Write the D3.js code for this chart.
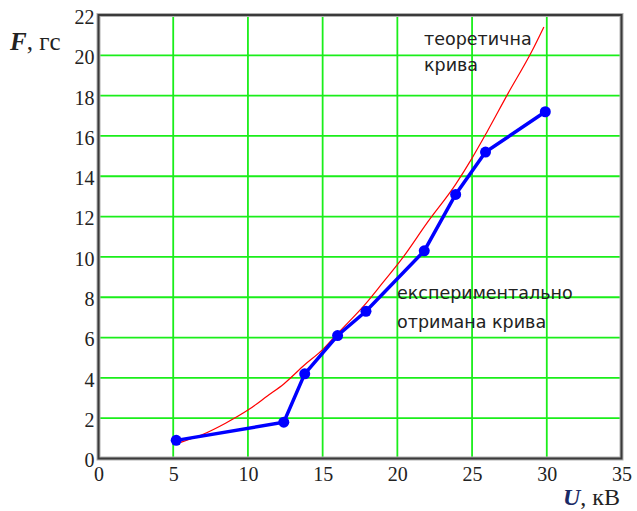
<!DOCTYPE html>
<html>
<head>
<meta charset="utf-8">
<script src="https://cdn.jsdelivr.net/npm/d3@7"></script>
<style>
body{margin:0;background:#fff}
svg text{fill:#222}
.tick text{font-family:"Liberation Serif","DejaVu Serif",serif;font-size:20px}
.note{font-family:"DejaVu Sans",sans-serif;font-size:17.5px}
</style>
</head>
<body>
<svg></svg>
<script>
let width=637
let height=511

// experimental points U (kV), F (gf)
let expU=[5.2,12.4,13.8,16,17.9,21.8,23.9,25.9,29.9]
let expF=[0.9,1.8,4.2,6.1,7.3,10.3,13.1,15.2,17.2]

// theoretical curve
let theoU=[5.5,7,8.5,10,11.3,12.4,13.8,15,16,17.9,19,20.3,22,23.9,25,26,27.4,29,29.8]
let theoF=[0.8,1.2,1.75,2.4,3.1,3.7,4.65,5.4,6.2,7.7,8.7,9.9,11.7,13.6,14.9,16.2,18.1,20.2,21.4]

let xTicks=[0,5,10,15,20,25,30,35]
let yTicks=[0,2,4,6,8,10,12,14,16,18,20,22]

let svg=d3.select('svg').attr('width',width).attr('height',height)

let xScale=d3.scaleLinear().domain([0,35]).range([98.5,621.5])
let yScale=d3.scaleLinear().domain([0,22]).range([458.5,15])

// grid
svg.append('g').selectAll('line')
  .data(xTicks.filter(d=>d>0&&d<35))
  .enter().append('line')
  .attr('x1',d=>xScale(d)).attr('x2',d=>xScale(d))
  .attr('y1',yScale(0)).attr('y2',yScale(22))
  .attr('stroke','#1aee1a').attr('stroke-width',1.8)
svg.append('g').selectAll('line')
  .data(yTicks.filter(d=>d>0&&d<22))
  .enter().append('line')
  .attr('y1',d=>yScale(d)).attr('y2',d=>yScale(d))
  .attr('x1',xScale(0)).attr('x2',xScale(35))
  .attr('stroke','#1aee1a').attr('stroke-width',1.8)

// frame
svg.append('rect')
  .attr('x',xScale(0)).attr('y',yScale(22))
  .attr('width',xScale(35)-xScale(0)).attr('height',yScale(0)-yScale(22))
  .attr('fill','none').attr('stroke','#b0b0b0').attr('stroke-width',4)
svg.append('rect')
  .attr('x',xScale(0)).attr('y',yScale(22))
  .attr('width',xScale(35)-xScale(0)).attr('height',yScale(0)-yScale(22))
  .attr('fill','none').attr('stroke','#3a3a3a').attr('stroke-width',2)

// axes (labels only)
let xAxis=d3.axisBottom(xScale).tickValues(xTicks).tickSize(0).tickPadding(8)
svg.append('g').attr('transform','translate(0,'+yScale(0)+')').call(xAxis)
  .call(g=>g.select('.domain').remove())
let yAxis=d3.axisLeft(yScale).tickValues(yTicks).tickSize(0).tickPadding(4)
svg.append('g').attr('transform','translate('+xScale(0)+',2)').call(yAxis)
  .call(g=>g.select('.domain').remove())
svg.selectAll('.tick text').attr('fill','#222')

// theoretical curve
let theo=theoU.map((u,i)=>[u,theoF[i]])
svg.append('path').datum(theo)
  .attr('d',d3.line().curve(d3.curveMonotoneX).x(d=>xScale(d[0])).y(d=>yScale(d[1])))
  .attr('fill','none').attr('stroke','#ff0000').attr('stroke-width',1.2)

// experimental curve
let exp=expU.map((u,i)=>[u,expF[i]])
svg.append('path').datum(exp)
  .attr('d',d3.line().x(d=>xScale(d[0])).y(d=>yScale(d[1])))
  .attr('fill','none').attr('stroke','#0000ff').attr('stroke-width',3.5)
svg.selectAll('circle.dot').data(exp).enter().append('circle')
  .attr('class','dot')
  .attr('cx',d=>xScale(d[0])).attr('cy',d=>yScale(d[1]))
  .attr('r',5.5).attr('fill','#0000ff')

// notes
svg.append('text').attr('class','note').attr('x',424).attr('y',45).text('теоретична')
svg.append('text').attr('class','note').attr('x',424).attr('y',71).text('крива')
svg.append('text').attr('class','note').attr('x',397).attr('y',299).text('експериментально')
svg.append('text').attr('class','note').attr('x',397).attr('y',328).text('отримана крива')

// axis titles
let yt=svg.append('text').attr('x',10).attr('y',50)
  .style('font-family','"Liberation Serif",serif').style('font-size','25px')
yt.append('tspan').style('font-style','italic').style('font-weight','bold').text('F')
yt.append('tspan').text(', гс')
let xt=svg.append('text').attr('x',620).attr('y',505).attr('text-anchor','end')
  .style('font-family','"Liberation Serif",serif').style('font-size','24px')
xt.append('tspan').style('font-style','italic').style('font-weight','bold').attr('fill','#1a2a66').text('U')
xt.append('tspan').text(', кВ')
</script>
</body>
</html>
